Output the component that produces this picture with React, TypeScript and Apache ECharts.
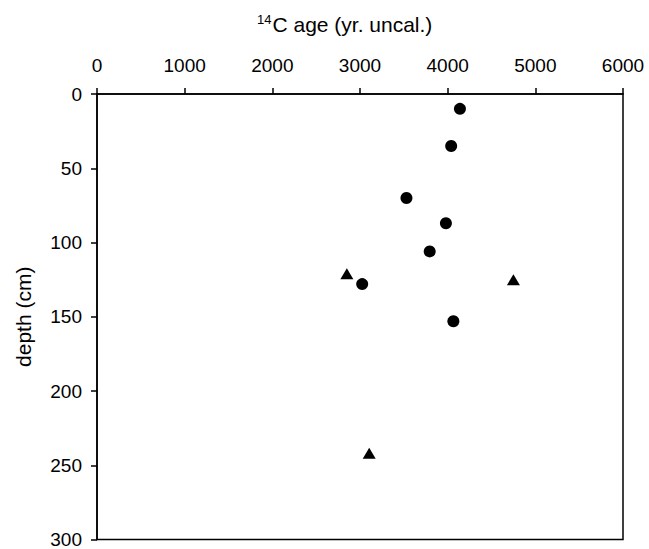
import React, { useEffect, useRef } from "react";
import * as echarts from "echarts";

const xTicks = [0, 1000, 2000, 3000, 4000, 5000, 6000];
const yTicks = [0, 50, 100, 150, 200, 250, 300];
const circleAge = [4140, 4040, 3530, 3980, 3795, 3025, 4065];
const circleDepth = [10, 35, 70, 87, 106, 128, 153];
const triangleAge = [2850, 4750, 3105];
const triangleDepth = [121, 125, 242];

const FONT = "Liberation Sans, Arial, sans-serif";

export default function App() {
  const ref = useRef<HTMLDivElement>(null);
  useEffect(() => {
    if (!ref.current) return;
    const chart = echarts.init(ref.current, undefined, { renderer: "svg" });
    chart.setOption({
      animation: false,
      backgroundColor: "#fff",
      title: {
        text: "{sup|14}{main|C age (yr. uncal.)}",
        left: 252,
        top: 8,
        textStyle: {
          fontWeight: "normal",
          rich: {
            sup: { fontSize: 13, fontFamily: FONT, fontWeight: "normal", color: "#000", verticalAlign: "top", padding: [0, 1, 9, 0] },
            main: { fontSize: 21, fontFamily: FONT, fontWeight: "normal", color: "#000" },
          },
        },
      },
      grid: {
        left: 97,
        right: 26,
        top: 94,
        bottom: 7,
        show: true,
        borderColor: "#000",
        borderWidth: 1.5,
        backgroundColor: "transparent",
      },
      xAxis: {
        type: "value",
        position: "top",
        min: xTicks[0],
        max: xTicks[xTicks.length - 1],
        interval: 1000,
        splitLine: { show: false },
        axisLine: { show: true, lineStyle: { color: "#000", width: 1.5 } },
        axisTick: { show: true, length: 6, lineStyle: { color: "#000", width: 1.5 } },
        axisLabel: {
          color: "#000",
          fontSize: 19,
          fontWeight: "normal",
          fontFamily: FONT,
          margin: 19,
          formatter: (v: number) => String(v),
        },
      },
      yAxis: {
        type: "value",
        inverse: true,
        min: yTicks[0],
        max: yTicks[yTicks.length - 1],
        interval: 50,
        name: "depth (cm)",
        nameLocation: "middle",
        nameRotate: 90,
        nameGap: 63,
        nameTextStyle: { color: "#000", fontSize: 21, fontWeight: "normal", fontFamily: FONT },
        splitLine: { show: false },
        axisLine: { show: true, lineStyle: { color: "#000", width: 1.5 } },
        axisTick: { show: true, length: 6, lineStyle: { color: "#000", width: 1.5 } },
        axisLabel: {
          color: "#000",
          fontSize: 19,
          fontWeight: "normal",
          fontFamily: FONT,
          margin: 15,
          formatter: (v: number) => String(v),
        },
      },
      series: [
        {
          type: "scatter",
          symbol: "circle",
          symbolSize: 12,
          itemStyle: { color: "#000", opacity: 1 },
          data: circleAge.map((a, i) => [a, circleDepth[i]]),
        },
        {
          type: "scatter",
          symbol: "triangle",
          symbolSize: [13, 11],
          itemStyle: { color: "#000", opacity: 1 },
          data: triangleAge.map((a, i) => [a, triangleDepth[i]]),
        },
      ],
    });
    return () => chart.dispose();
  }, []);
  return (
    <div
      ref={ref}
      style={{ position: "fixed", left: 0, top: 0, width: 649, height: 549 }}
    />
  );
}
